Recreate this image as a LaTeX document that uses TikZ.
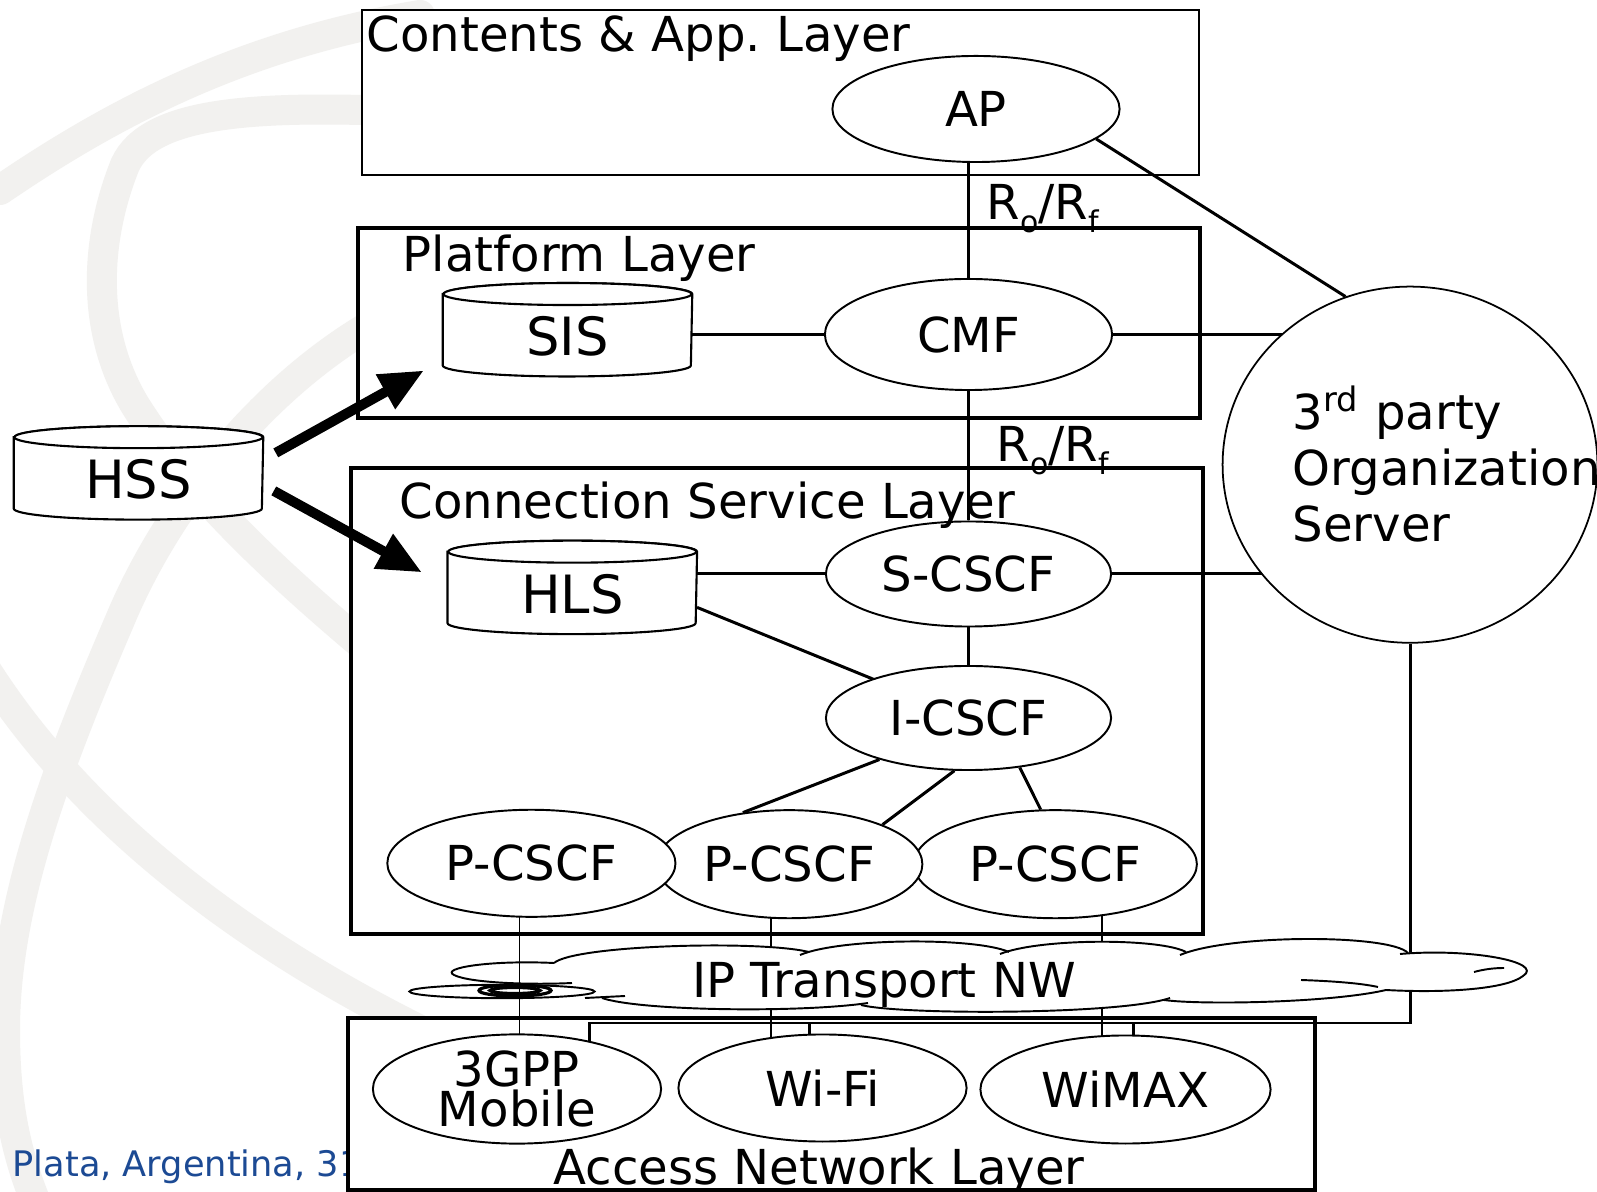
\documentclass[tikz,border=0pt]{standalone}
\usepackage{fontspec}
\setmainfont{DejaVu Sans}
\usetikzlibrary{shapes.geometric,arrows.meta,calc}

\pgfdeclarelayer{wm}
\pgfdeclarelayer{boxes}
\pgfdeclarelayer{lines}
\pgfdeclarelayer{drums}
\pgfsetlayers{wm,boxes,lines,drums,main}

\definecolor{wmgrey}{RGB}{242,241,239}
\definecolor{footblue}{RGB}{28,74,148}

\newcommand\mainsz{\fontsize{13.7}{16.4}\selectfont}
\newcommand\subsz{\fontsize{8.5}{9}\selectfont}

\tikzset{
  lbl/.style={inner sep=0pt, font=\mainsz},
  fn/.style={ellipse, draw, line width=0.55pt, fill=white, inner sep=0pt, font=\mainsz},
  layerbox/.style={rectangle, draw, fill=white, line width=1.15pt, inner sep=0pt},
  dbnode/.style={rectangle, inner sep=0pt, minimum width=2.48cm, minimum height=0.70cm,
                 text height=0.52cm, text depth=0pt, font=\fontsize{15}{18}\selectfont},
  dbline/.style={draw, fill=white, line width=0.6pt},
  link/.style={line width=0.85pt},
  feed/.style={line width=0.45pt},
  push/.style={line width=0.1cm, -{Triangle[length=0.44cm,width=0.37cm]}},
  band/.style={draw=wmgrey, line width=0.3cm, line cap=round},
  cloudline/.style={line width=0.55pt},
}

% database drum drawn around a body-sized rectangle node
\newcommand\dbdrum[1]{%
  \filldraw[dbline] (#1.north west) -- (#1.south west)
    arc[start angle=180, end angle=360, x radius=1.24cm, y radius=0.11cm]
    -- (#1.north east)
    arc[start angle=0, end angle=180, x radius=1.24cm, y radius=0.11cm] -- cycle;
  \draw[dbline] (#1.north) ellipse[x radius=1.24cm, y radius=0.11cm];}

\begin{document}
\begin{tikzpicture}[x=0.01cm,y=-0.01cm]
\useasboundingbox (0,0) rectangle (1597,1192);

% ---------- background swooshes and footer ----------
\begin{pgfonlayer}{wm}
  \fill[white] (0,0) rectangle (1597,1192);
  \draw[band] (0,190) .. controls (110,115) and (240,45) .. (420,15);
  \draw[band] (420,112) .. controls (260,105) and (150,110) .. (125,165)
              .. controls (95,240) and (90,330) .. (135,405)
              .. controls (185,485) and (260,560) .. (380,660);
  \draw[band] (420,300) .. controls (280,360) and (170,500) .. (120,620)
              .. controls (60,760) and (5,900) .. (5,1030)
              .. controls (5,1100) and (15,1150) .. (35,1200);
  \draw[band] (-20,660) .. controls (60,790) and (200,920) .. (420,1030);
  \node[anchor=base west, inner sep=0pt, font=\fontsize{10}{12}\selectfont,
        text=footblue] (foot) at (12,1176) {Plata, Argentina, 31};
\end{pgfonlayer}

% ---------- layer frames ----------
\begin{pgfonlayer}{boxes}
  \node[layerbox, line width=0.6pt, minimum width=8.362cm, minimum height=1.65cm] (contents) at (780.7,92.5) {};
  \node[layerbox, minimum width=8.414cm, minimum height=1.899cm] (platform) at (779.1,322.65) {};
  \node[layerbox, minimum width=8.51cm, minimum height=4.65cm] (conn) at (777,701) {};
  \node[layerbox, minimum width=9.666cm, minimum height=1.72cm] (access) at (831.6,1104) {};
\end{pgfonlayer}

% ---------- IP transport cloud ----------
\fill[white] (554,963) .. controls (575,945) and (760,940) .. (809,952)
  .. controls (840,938) and (975,937) .. (1009,952)
  .. controls (1040,938) and (1160,938) .. (1186,952)
  .. controls (1230,934) and (1390,934) .. (1408,953)
  .. controls (1470,948) and (1545,962) .. (1523,976)
  .. controls (1505,990) and (1440,993) .. (1386,990)
  .. controls (1330,1003) and (1200,1005) .. (1164,1000)
  .. controls (1120,1015) and (900,1015) .. (861,1005)
  .. controls (800,1013) and (640,1011) .. (602,998)
  -- (572,983) -- cycle;
\draw[cloudline] (554,963) .. controls (575,945) and (760,940) .. (809,952);
\draw[cloudline] (800,955) .. controls (840,938) and (975,937) .. (1009,952);
\draw[cloudline] (1000,954) .. controls (1040,938) and (1160,938) .. (1186,952);
\draw[cloudline] (1180,955) .. controls (1230,934) and (1390,934) .. (1408,953);
\draw[cloudline] (1400,954) .. controls (1470,948) and (1545,962) .. (1523,976)
  .. controls (1505,990) and (1440,993) .. (1386,990);
\draw[cloudline] (1386,990) .. controls (1330,1003) and (1200,1005) .. (1164,1000);
\draw[cloudline] (1170,998) .. controls (1120,1015) and (900,1015) .. (861,1005);
\draw[cloudline] (868,1003) .. controls (800,1013) and (640,1011) .. (602,998);
\draw[cloudline] (585,998) -- (625,996);
\draw[cloudline] (554,963) .. controls (490,960) and (440,968) .. (454,975)
  .. controls (470,983) and (530,985) .. (572,983);
\draw[cloudline] (1474,972) .. controls (1485,969) and (1495,968) .. (1504,968);
\draw[cloudline] (1301,980) .. controls (1330,981) and (1360,983) .. (1378,987);
\draw[cloudline] (502,991.5) ellipse[x radius=0.925cm, y radius=0.067cm];
\draw[line width=0.9pt] (515,990.5) ellipse[x radius=0.36cm, y radius=0.055cm];
\draw[line width=0.9pt] (515,990.5) ellipse[x radius=0.25cm, y radius=0.03cm];
\node[lbl, anchor=base] (tip) at (884,998) {IP Transport NW};

% ---------- functional entities ----------
\node[fn, minimum width=2.87cm, minimum height=1.06cm] (ap) at (976,109) {AP};
\node[fn, minimum width=2.87cm, minimum height=1.11cm] (cmf) at (968.5,334.5) {CMF};
\node[fn, minimum width=2.85cm, minimum height=1.05cm] (scscf) at (968.5,574) {S-CSCF};
\node[fn, minimum width=2.85cm, minimum height=1.04cm] (icscf) at (968.5,718) {I-CSCF};
\node[fn, minimum width=2.83cm, minimum height=1.08cm] (p3) at (1055.3,864.2) {P-CSCF};
\node[fn, minimum width=2.66cm, minimum height=1.08cm] (p2) at (789.3,864.2) {P-CSCF};
\node[fn, minimum width=2.88cm, minimum height=1.07cm] (p1) at (531.4,863.3) {P-CSCF};
\node[fn, minimum width=2.88cm, minimum height=1.08cm, align=center,
      font=\fontsize{13.7}{11.6}\selectfont] (a3gpp) at (517,1089) {3GPP\\Mobile};
\node[fn, minimum width=2.88cm, minimum height=1.07cm] (wifi) at (822.5,1088) {Wi-Fi};
\node[fn, minimum width=2.9cm, minimum height=1.08cm] (wimax) at (1125.5,1089.5) {WiMAX};
\node[fn, line width=0.5pt, minimum width=3.746cm, minimum height=3.56cm] (tp) at (1410,464.7) {};
\node[lbl, anchor=west, align=left, font=\fontsize{13.7}{15.9}\selectfont] (tptext) at (1292,464)
  {3\textsuperscript{rd} party\\Organization\\Server};

% ---------- databases ----------
\node[dbnode] (sis) at (567.5,329.75) {SIS};
\node[dbnode] (hls) at (572.3,587.4) {HLS};
\node[dbnode] (hss) at (138.5,472.9) {HSS};
\begin{pgfonlayer}{drums}
  \dbdrum{sis}\dbdrum{hls}\dbdrum{hss}
\end{pgfonlayer}

% ---------- layer titles and interface labels ----------
\node[lbl, anchor=base west] (tcontents) at (366,51.5) {Contents \& App.\ Layer};
\node[lbl, anchor=base west] (tplatform) at (402,272) {Platform Layer};
\node[lbl, anchor=base west] (tconn) at (399,518.5) {Connection Service Layer};
\node[lbl, anchor=base] (taccess) at (819,1184) {Access Network Layer};
\node[lbl, anchor=base west] (rr1) at (986,220)
  {R\raisebox{-0.26em}{\subsz o}/R\raisebox{-0.26em}{\subsz f}};
\node[lbl, anchor=base west] (rr2) at (996,461.7)
  {R\raisebox{-0.26em}{\subsz o}/R\raisebox{-0.26em}{\subsz f}};

% ---------- connectors ----------
\coordinate (busL) at (589,1023);
\coordinate (tickW) at (809.6,1023);
\coordinate (tickX) at (1133.6,1023);
\begin{pgfonlayer}{lines}
  \draw[link] (cmf.north) -- (cmf.north |- ap.south);
  \draw[link] (cmf.south) -- (scscf.north);
  \draw[link] (scscf.south) -- (icscf.north);
  \draw[link] (cmf.west) -- (cmf.west -| sis.east);
  \draw[link] (cmf.east) -- (cmf.east -| tp.center);
  \draw[link] (scscf.west) -- (scscf.west -| hls.east);
  \draw[link] (scscf.east) -- (scscf.east -| tp.center);
  \draw[link] ($(hls.east)+(0,20)$) -- (icscf.center);
  \draw[link] (ap.346) -- (tp.111);
  \draw[link] (icscf.205) -- (p2.132);
  \draw[link] (icscf.255) -- (p2.23);
  \draw[link] (icscf.316) -- (p3.105);
  \draw[feed] ($(p1.center)+(-11.9,0)$) -- ($(a3gpp.center)+(2.5,0)$);
  \draw[feed] ($(p2.center)+(-18.3,0)$) -- ($(wifi.center)+(-51.5,0)$);
  \draw[feed] ($(p3.center)+(46.7,0)$) -- ($(wimax.center)+(-23.5,0)$);
  \draw[link] (tp.south) -- (tp.south |- busL) -- (busL) -- (busL |- a3gpp.center);
  \draw[link] (tickW) -- (tickW |- wifi.center);
  \draw[link] (tickX) -- (tickX |- wimax.center);
  \draw[push] ($(hss.east)+(12.5,-20)$) -- ($(sis.south west)+(-18.8,5)$);
  \draw[push] ($(hss.east)+(10.5,18)$) -- ($(hls.west)+(-25.6,-15)$);
\end{pgfonlayer}
\end{tikzpicture}
\end{document}
